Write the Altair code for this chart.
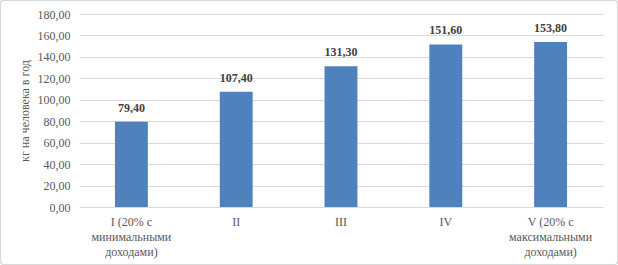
import altair as alt
import pandas as pd

categories = ["I (20% с|минимальными|доходами)", "II", "III", "IV", "V (20% с|максимальными|доходами)"]
values = [79.40, 107.40, 131.30, 151.60, 153.80]
y_title = "кг на человека в год"

df = pd.DataFrame({"cat": categories, "val": values})

W, H = 524, 193
FONT = "'Times New Roman', 'Liberation Serif', 'DejaVu Serif', serif"

base = alt.Chart(df).encode(
    x=alt.X("cat:N", sort=None,
            scale=alt.Scale(paddingInner=0.686, paddingOuter=0.343),
            axis=alt.Axis(title=None, labelAngle=0, labelExpr="split(datum.label, '|')",
                          labelLineHeight=15, labelPadding=9, ticks=False, domain=False,
                          labelFont=FONT, labelFontSize=12, labelColor="#595959")),
    y=alt.Y("val:Q", scale=alt.Scale(domain=[0, 180], nice=False),
            axis=alt.Axis(title=y_title, values=list(range(0, 181, 20)),
                          labelExpr="replace(format(datum.value, '.2f'), '.', ',')",
                          ticks=False, domain=False, gridColor="#d9d9d9",
                          labelFont=FONT, labelFontSize=12, labelColor="#595959", labelPadding=9,
                          titleFont=FONT, titleFontSize=12, titleFontWeight="normal",
                          titleColor="#595959", titlePadding=6)),
)

bars = base.mark_bar(color="#4f81bd")
labels = base.transform_calculate(
    lbl="replace(format(datum.val, '.2f'), '.', ',')"
).mark_text(baseline="bottom", dy=-7, font=FONT, fontSize=12, fontWeight="bold",
            color="#404040").encode(text="lbl:N")

border = alt.Chart(df).mark_rect(fill=None, stroke="#d9d9d9", strokeWidth=1, cornerRadius=3,
                                 clip=False).encode(
    x=alt.value(-78.5), x2=alt.value(W + 14.5), y=alt.value(-13.5), y2=alt.value(H + 57.5)
)

chart = alt.layer(border, bars, labels).properties(
    width=W, height=H,
    autosize=alt.AutoSizeParams(type="none"),
    padding={"left": 79, "top": 14, "right": 15, "bottom": 58},
).configure(background="white").configure_view(stroke=None)

chart.save("out.html", embed_options={"renderer": "svg", "actions": False})
